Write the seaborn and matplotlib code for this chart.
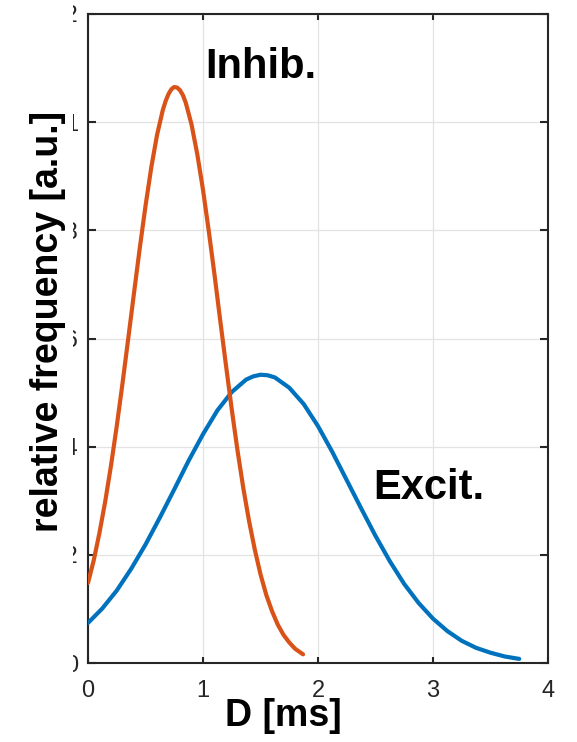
import numpy as np
import pandas as pd
import seaborn as sns
import matplotlib
matplotlib.use("Agg")
import matplotlib.pyplot as plt
from matplotlib.transforms import Bbox, TransformedBbox

# ---- data ----
inhib_x = [0.0, 0.05, 0.1, 0.15, 0.2, 0.25, 0.3, 0.35, 0.4, 0.45, 0.5, 0.55, 0.6, 0.65, 0.675,
           0.7, 0.725, 0.75, 0.775, 0.8, 0.825, 0.85, 0.9, 0.95, 1.0, 1.05, 1.1, 1.15, 1.2, 1.25,
           1.3, 1.35, 1.4, 1.45, 1.5, 1.55, 1.6, 1.65, 1.7, 1.75, 1.8, 1.87]
inhib_y = [0.148, 0.190, 0.241, 0.299, 0.365, 0.438, 0.517, 0.600, 0.684, 0.767, 0.845, 0.916,
           0.976, 1.022, 1.039, 1.052, 1.061, 1.065, 1.064, 1.059, 1.050, 1.036, 0.996, 0.941,
           0.875, 0.799, 0.718, 0.633, 0.550, 0.469, 0.393, 0.324, 0.263, 0.210, 0.164, 0.126,
           0.096, 0.071, 0.052, 0.038, 0.0265, 0.016]
excit_x = [0.0, 0.125, 0.25, 0.375, 0.5, 0.625, 0.75, 0.875, 1.0, 1.125, 1.25, 1.375, 1.4375,
           1.5, 1.5625, 1.625, 1.75, 1.875, 2.0, 2.125, 2.25, 2.375, 2.5, 2.625, 2.75, 2.875,
           3.0, 3.125, 3.25, 3.375, 3.5, 3.625, 3.75]
excit_y = [0.074, 0.101, 0.134, 0.174, 0.219, 0.269, 0.321, 0.374, 0.423, 0.467, 0.501, 0.524,
           0.530, 0.533, 0.532, 0.528, 0.509, 0.479, 0.438, 0.390, 0.338, 0.286, 0.235, 0.188,
           0.146, 0.111, 0.082, 0.059, 0.041, 0.028, 0.019, 0.012, 0.0076]
x_ticks = [0, 1, 2, 3, 4]
y_ticks = [0, 0.2, 0.4, 0.6, 0.8, 1.0, 1.2]
y_tick_labels = ["0", "0.2", "0.4", "0.6", "0.8", "1", "1.2"]

BLUE = "#0072BD"
ORANGE = "#D95319"
DARK = "#262626"

sns.set_style("white")
plt.rcParams["font.family"] = ["Liberation Sans", "DejaVu Sans"]

W, H = 577, 742
fig = plt.figure(figsize=(W / 100, H / 100), dpi=100)
L, R, T, B = 88, 548, 14, 663
ax = fig.add_axes([L / W, 1 - B / H, (R - L) / W, (B - T) / H])

df_i = pd.DataFrame({"x": inhib_x, "y": inhib_y})
df_e = pd.DataFrame({"x": excit_x, "y": excit_y})
sns.lineplot(data=df_e, x="x", y="y", ax=ax, color=BLUE, lw=3, sort=False, zorder=3,
             solid_joinstyle="round")
sns.lineplot(data=df_i, x="x", y="y", ax=ax, color=ORANGE, lw=3, sort=False, zorder=3,
             solid_joinstyle="round")

ax.set_xlim(0, 4)
ax.set_ylim(0, 1.2)
ax.set_xticks(x_ticks)
ax.set_xticklabels([str(t) for t in x_ticks])
ax.set_yticks(y_ticks)
ax.set_yticklabels(y_tick_labels)

ax.grid(True, color="#E3E3E3", lw=0.9)
ax.set_axisbelow(True)
for s in ax.spines.values():
    s.set_visible(True)
    s.set_color(DARK)
    s.set_linewidth(1.5)

ax.tick_params(axis="x", direction="in", length=4, width=1.5, color=DARK,
               labelsize=17, labelcolor=DARK, pad=12, top=True, bottom=True)
ax.tick_params(axis="y", direction="in", length=5.5, width=1.5, color=DARK,
               labelsize=17, labelcolor=DARK, pad=7, left=True, right=True)

ax.set_xlabel("D [ms]", fontsize=27, fontweight="bold", color="black")
ax.set_ylabel("relative frequency [a.u.]", fontsize=27, fontweight="bold", color="black")
ax.xaxis.set_label_coords((283.5 - L) / (R - L), -(698 - B) / (B - T))
ax.yaxis.set_label_coords(-(88 - 66) / (R - L), (B - 321.5) / (B - T))

ax.text(1.017, 1.082, "Inhib.", fontsize=30, fontweight="bold", color="black",
        ha="left", va="baseline")
ax.text(2.478, 0.303, "Excit.", fontsize=30, fontweight="bold", color="black",
        ha="left", va="baseline")

# y tick labels appear cut off on their left in the reference
clip = TransformedBbox(Bbox([[73 / W, 0], [1, 1]]), fig.transFigure)
for tk in ax.yaxis.get_major_ticks():
    tk.label1.set_clip_on(True)
    tk.label1.set_clip_box(clip)

fig.savefig("out.png", dpi=100)
